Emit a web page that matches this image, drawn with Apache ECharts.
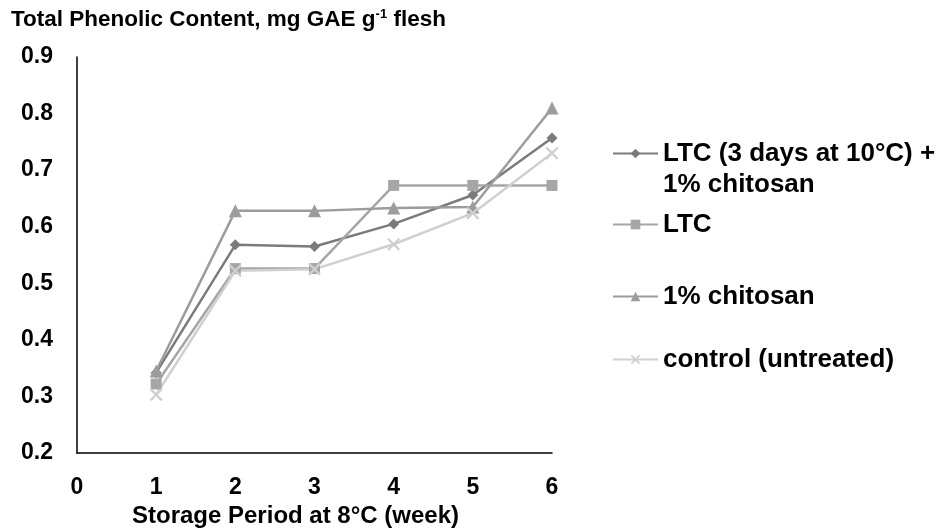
<!DOCTYPE html>
<html>
<head>
<meta charset="utf-8">
<title>Total Phenolic Content</title>
<script src="https://cdn.jsdelivr.net/npm/echarts@6/dist/echarts.min.js"></script>
<style>
  html, body { margin: 0; padding: 0; background: #fff; }
  #main { width: 943px; height: 531px; }
</style>
</head>
<body>
<div id="main"></div>
<script>
  // storage weeks at 8 C
  var weeks = [1, 2, 3, 4, 5, 6];
  // total phenolic content, mg GAE per g flesh
  var ltcChitosan = [0.342, 0.568, 0.565, 0.605, 0.656, 0.757];
  var ltc = [0.322, 0.526, 0.526, 0.673, 0.673, 0.673];
  var chitosan = [0.345, 0.628, 0.628, 0.633, 0.635, 0.810];
  var control = [0.303, 0.522, 0.525, 0.569, 0.624, 0.730];
  var seriesNames = ['LTC (3 days at 10°C) +\n1% chitosan', 'LTC', '1% chitosan', 'control (untreated)'];

  var font = 'Liberation Sans, Arial, sans-serif';
  var crossPath = 'path://M0,1.5L1.5,0L6,4.5L10.5,0L12,1.5L7.5,6L12,10.5L10.5,12L6,7.5L1.5,12L0,10.5L4.5,6Z';

  function pairs(vals) {
    var out = [];
    for (var i = 0; i < weeks.length; i++) {
      out.push([weeks[i], vals[i]]);
    }
    return out;
  }

  function makeSeries(name, vals, color, symbol, size) {
    return {
      name: name,
      type: 'line',
      data: pairs(vals),
      symbol: symbol,
      symbolSize: size,
      showAllSymbol: true,
      lineStyle: { color: color, width: 2.5 },
      itemStyle: { color: color },
      emphasis: { disabled: true },
      animation: false
    };
  }

  function legendAt(name, top, fmt) {
    var lg = {
      data: [name],
      left: 612,
      top: top,
      orient: 'vertical',
      itemWidth: 45,
      itemHeight: 12,
      itemGap: 0,
      padding: 0,
      selectedMode: false,
      textStyle: {
        fontFamily: font,
        fontWeight: 'bold',
        fontSize: 26,
        color: '#000',
        lineHeight: 31
      }
    };
    if (fmt) lg.formatter = fmt;
    return lg;
  }

  var chart = echarts.init(document.getElementById('main'));

  var option = {
    backgroundColor: '#fff',
    animation: false,
    title: {
      text: '{b|Total Phenolic Content, mg GAE g}{s|-1}{b| flesh}',
      left: 11,
      top: 8,
      padding: 0,
      textStyle: {
        rich: {
          b: { fontFamily: font, fontWeight: 'bold', fontSize: 22.5, color: '#000' },
          s: { fontFamily: font, fontWeight: 'bold', fontSize: 13, color: '#000', padding: [0, 0, 10, 0] }
        }
      }
    },
    legend: [
      // blank first line keeps the marker beside the first text line
      legendAt(seriesNames[0], 107, function (n) { return '\n' + n; }),
      legendAt(seriesNames[1], 209),
      legendAt(seriesNames[2], 281),
      legendAt(seriesNames[3], 344)
    ],
    grid: {
      left: 77,
      right: 391,
      top: 57,
      bottom: 78,
      outerBoundsMode: 'none'
    },
    xAxis: {
      type: 'value',
      min: 0,
      max: 6,
      interval: 1,
      name: 'Storage Period at 8°C (week)',
      nameLocation: 'middle',
      nameGap: 49,
      nameTextStyle: {
        fontFamily: font, fontWeight: 'bold', fontSize: 24, color: '#000',
        padding: [0, 38, 0, 0]
      },
      axisLine: { lineStyle: { color: '#000', width: 1.5 } },
      axisTick: { show: false },
      splitLine: { show: false },
      axisLabel: { fontFamily: font, fontWeight: 'bold', fontSize: 23, color: '#000', margin: 23 }
    },
    yAxis: {
      type: 'value',
      min: 0.2,
      max: 0.9,
      interval: 0.1,
      axisLine: { show: true, lineStyle: { color: '#000', width: 1.5 } },
      axisTick: { show: false },
      splitLine: { show: false },
      axisLabel: {
        fontFamily: font, fontWeight: 'bold', fontSize: 23, color: '#000', margin: 24,
        formatter: function (v) { return v.toFixed(1); }
      }
    },
    series: [
      makeSeries(seriesNames[0], ltcChitosan, '#7b7b7b', 'diamond', 11),
      makeSeries(seriesNames[1], ltc, '#a6a6a6', 'rect', 11),
      makeSeries(seriesNames[2], chitosan, '#9c9c9c', 'triangle', 13),
      makeSeries(seriesNames[3], control, '#d0d0d0', crossPath, 13)
    ]
  };

  chart.setOption(option);
</script>
</body>
</html>
